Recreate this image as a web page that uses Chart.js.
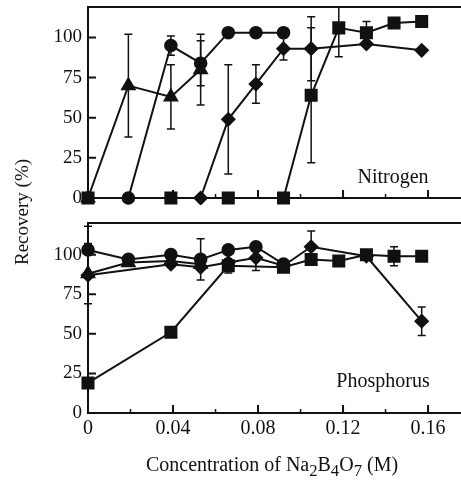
<!DOCTYPE html>
<html>
<head>
<meta charset="utf-8">
<script src="https://cdn.jsdelivr.net/npm/chart.js@4/dist/chart.umd.min.js"></script>
<style>
body { margin: 0; background: #fff; }
#wrap { position: relative; width: 461px; height: 482px; font-family: "Liberation Serif", "DejaVu Serif", serif; color: #111; }
#nChart { position: absolute; left: 0; top: 0; }
#pChart { position: absolute; left: 0; top: 215px; }
.lab { position: absolute; white-space: nowrap; transform: translate(-50%, -50%); }
#ylab { left: 22px; top: 212px; font-size: 19px; transform: translate(-50%, -50%) rotate(-90deg); }
#xlab { left: 272px; top: 467px; font-size: 20px; }
#nlab { left: 393px; top: 176px; font-size: 20px; }
#plab { left: 383px; top: 380px; font-size: 20px; }
</style>
</head>
<body>
<div id="wrap">
  <canvas id="nChart" width="461" height="205"></canvas>
  <canvas id="pChart" width="461" height="267"></canvas>
  <div class="lab" id="ylab">Recovery (%)</div>
  <div class="lab" id="xlab">Concentration of Na<sub>2</sub>B<sub>4</sub>O<sub>7</sub> (M)</div>
  <div class="lab" id="nlab">Nitrogen</div>
  <div class="lab" id="plab">Phosphorus</div>
</div>
<script>
// axis ticks
var xTicks = [0, 0.04, 0.08, 0.12, 0.16];
var xTickLabels = ['0', '0.04', '0.08', '0.12', '0.16'];
var xMinor = [0.02, 0.06, 0.10, 0.14];
var yTicks = [0, 25, 50, 75, 100];

// Nitrogen panel
var nSqX  = [0, 0.039, 0.066, 0.092, 0.105, 0.118, 0.131, 0.144, 0.157];
var nSqY  = [0, 0, 0, 0, 64, 106, 103, 109, 110];
var nSqE  = [0, 0, 0, 0, 42, 18, 7, 0, 0];
var nCirX = [0.019, 0.039, 0.053, 0.066, 0.079, 0.092];
var nCirY = [0, 95, 84, 103, 103, 103];
var nCirE = [0, 6, 14, 0, 0, 0];
var nTriX = [0, 0.019, 0.039, 0.053];
var nTriY = [0, 70, 63, 80];
var nTriE = [0, 32, 20, 22];
var nDiaX = [0.053, 0.066, 0.079, 0.092, 0.105, 0.131, 0.157];
var nDiaY = [0, 49, 71, 93, 93, 96, 92];
var nDiaE = [0, 34, 12, 7, 20, 0, 0];

// Phosphorus panel
var pSqX  = [0, 0.039, 0.066, 0.092, 0.105, 0.118, 0.131, 0.144, 0.157];
var pSqY  = [19, 51, 93, 92, 97, 96, 100, 99, 99];
var pSqE  = [0, 0, 4.5, 0, 0, 0, 0, 6, 0];
var pCirX = [0, 0.019, 0.039, 0.053, 0.066, 0.079, 0.092];
var pCirY = [103, 97, 100, 97, 103, 105, 94];
var pCirE = [15, 0, 0, 13, 0, 0, 0];
var pTriX = [0, 0.019, 0.039, 0.053];
var pTriY = [88, 95, 96, 94];
var pTriE = [19, 0, 0, 0];
var pDiaX = [0, 0.039, 0.053, 0.066, 0.079, 0.092, 0.105, 0.131, 0.157];
var pDiaY = [87, 94, 92, 95, 98, 93, 105, 99, 58];
var pDiaE = [0, 0, 0, 0, 8, 0, 10, 0, 9];

var ink = '#111';
Chart.defaults.font.family = "'Liberation Serif', 'DejaVu Serif', serif";
Chart.defaults.color = ink;

function pts(xs, ys) {
  return xs.map(function(x, i) { return {x: x, y: ys[i]}; });
}

function series(xs, ys, errs, style, r) {
  return {
    data: pts(xs, ys),
    errs: errs,
    pointStyle: style,
    pointRadius: r,
    pointHoverRadius: r,
    pointBackgroundColor: ink,
    pointBorderColor: ink,
    borderColor: ink,
    borderWidth: 2,
    showLine: true,
    clip: false
  };
}

// error bars + frame + inward ticks
var decor = {
  id: 'decor',
  afterDatasetsDraw: function(chart) {
    var c = chart.ctx, a = chart.chartArea;
    var ys = chart.scales.y;
    c.save();
    c.strokeStyle = ink;
    c.lineWidth = 1.5;
    chart.data.datasets.forEach(function(ds, di) {
      var meta = chart.getDatasetMeta(di);
      ds.errs.forEach(function(e, i) {
        if (!e) return;
        var el = meta.data[i];
        var v = ds.data[i].y;
        var y1 = Math.max(ys.getPixelForValue(v + e), a.top);
        var y2 = Math.min(ys.getPixelForValue(v - e), a.bottom);
        c.beginPath();
        c.moveTo(el.x, y1); c.lineTo(el.x, y2);
        if (ys.getPixelForValue(v + e) >= a.top) { c.moveTo(el.x - 4, y1); c.lineTo(el.x + 4, y1); }
        c.moveTo(el.x - 4, y2); c.lineTo(el.x + 4, y2);
        c.stroke();
      });
    });
    c.restore();
  },
  afterDraw: function(chart) {
    var c = chart.ctx, a = chart.chartArea;
    var xs = chart.scales.x, ys = chart.scales.y;
    c.save();
    c.strokeStyle = ink;
    c.lineWidth = 2;
    c.beginPath();
    c.moveTo(a.left - 1, a.top); c.lineTo(a.right, a.top);
    yTicks.forEach(function(v) {
      var y = ys.getPixelForValue(v);
      c.moveTo(a.left, y); c.lineTo(a.left + 8, y);
    });
    xTicks.forEach(function(v) {
      var x = xs.getPixelForValue(v);
      c.moveTo(x, a.bottom); c.lineTo(x, a.bottom - 8);
    });
    c.stroke();
    c.lineWidth = 1.5;
    c.beginPath();
    xMinor.forEach(function(v) {
      var x = xs.getPixelForValue(v);
      c.moveTo(x, a.bottom); c.lineTo(x, a.bottom - 4);
    });
    c.stroke();
    c.restore();
  }
};

function makeChart(id, datasets, yMax, showX, xHeight, padTop) {
  return new Chart(document.getElementById(id), {
    type: 'line',
    data: {datasets: datasets},
    plugins: [decor],
    options: {
      responsive: false,
      devicePixelRatio: 1,
      animation: false,
      events: [],
      layout: {autoPadding: false, padding: {top: padTop, left: 0, right: 0, bottom: 0}},
      plugins: {legend: {display: false}, tooltip: {enabled: false}},
      scales: {
        x: {
          type: 'linear', min: 0, max: 0.1755,
          grid: {display: false, drawTicks: false},
          border: {display: true, color: ink, width: 2},
          afterBuildTicks: function(s) { s.ticks = xTicks.map(function(v) { return {value: v}; }); },
          afterFit: function(s) { s.height = xHeight; s.paddingLeft = 0; s.paddingRight = 0; },
          ticks: {
            display: showX, autoSkip: false, maxRotation: 0, padding: 4,
            font: {size: 20}, color: ink,
            callback: function(v, i) { return xTickLabels[i]; }
          }
        },
        y: {
          min: 0, max: yMax,
          grid: {display: false, drawTicks: false},
          border: {display: true, color: ink, width: 2},
          afterBuildTicks: function(s) { s.ticks = yTicks.map(function(v) { return {value: v}; }); },
          afterFit: function(s) { s.width = 88; s.paddingTop = 0; s.paddingBottom = 0; },
          ticks: {padding: 6, font: {size: 19}, color: ink}
        }
      }
    }
  });
}

makeChart('nChart', [
  series(nSqX, nSqY, nSqE, 'rect', 7.8),
  series(nCirX, nCirY, nCirE, 'circle', 5.8),
  series(nTriX, nTriY, nTriE, 'triangle', 7.2),
  series(nDiaX, nDiaY, nDiaE, 'rectRot', 6.2)
], 119, false, 7, 7);

makeChart('pChart', [
  series(pSqX, pSqY, pSqE, 'rect', 7.8),
  series(pCirX, pCirY, pCirE, 'circle', 5.8),
  series(pTriX, pTriY, pTriE, 'triangle', 7.2),
  series(pDiaX, pDiaY, pDiaE, 'rectRot', 6.2)
], 120, true, 69, 8);
</script>
</body>
</html>
